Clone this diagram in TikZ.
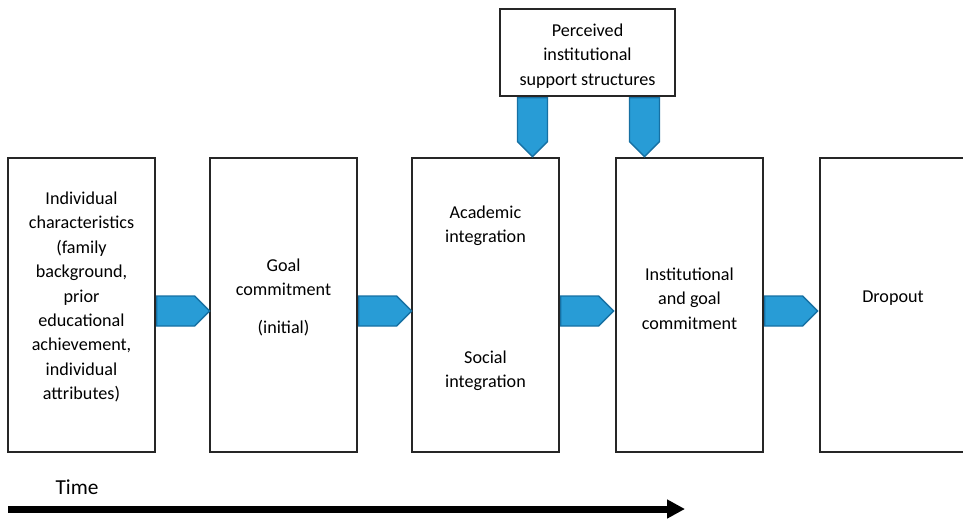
\documentclass[tikz,border=0pt]{standalone}
\usepackage{fontspec}
\setmainfont{Carlito}
\usetikzlibrary{shapes.arrows,arrows.meta}
\definecolor{flowblue}{RGB}{40,156,214}
\definecolor{flowedge}{RGB}{22,112,163}

\begin{document}
\begin{tikzpicture}[x=0.75pt,y=-0.75pt,
   box/.style={draw=black!85,line width=1.5pt,minimum width=110.25pt,minimum height=220.5pt,inner sep=0pt},
   txt/.style={align=center,font=\fontsize{13.6}{18.3}\selectfont},
   flow/.style={single arrow,draw=flowedge,fill=flowblue,line width=1pt,inner sep=0pt,
      single arrow head extend=0pt,single arrow tip angle=90,minimum width=22.5pt,minimum height=39.75pt}]
   \useasboundingbox (0,0) rectangle (963,519);

   % the five stages
   \draw (81.5,305) node[box] (individual) {};
   \draw (283.5,305) node[box] (goal) {};
   \draw (485.5,305) node[box] (integration) {};
   \draw (689.5,305) node[box] (institutional) {};
   \draw (894,305) node[box,minimum width=111pt] (dropout) {};
   \draw (587.5,52.5) node[box,minimum width=131.25pt,minimum height=65.25pt] (support) {};

   \draw (81.5,297) node[txt] (individual-t) {Individual\\characteristics\\(family\\background,\\prior\\educational\\achievement,\\individual\\attributes)};
   \draw (283.5,297.5) node[txt] (goal-t) {Goal\\commitment\\[10.5pt](initial)};
   \draw (485.5,226) node[txt] (academic-t) {Academic\\integration};
   \draw (485.5,371) node[txt] (social-t) {Social\\integration};
   \draw (689.5,298.5) node[txt] (institutional-t) {Institutional\\and goal\\commitment};
   \draw (893,298.5) node[txt] (dropout-t) {Dropout};
   \draw (587.5,56) node[txt] (support-t) {Perceived\\institutional\\support structures};

   % block arrows between the stages
   \node[flow,anchor=tail] (a1) at ([yshift=-4.5pt]individual.east) {};
   \node[flow,anchor=tail] (a2) at ([yshift=-4.5pt]goal.east) {};
   \node[flow,anchor=tail] (a3) at ([yshift=-4.5pt]integration.east) {};
   \node[flow,anchor=tail] (a4) at ([yshift=-4.5pt]institutional.east) {};
   \node[flow,shape border rotate=270,minimum height=44.25pt,anchor=tail] (s1) at ([xshift=-41.25pt]support.south) {};
   \node[flow,shape border rotate=270,minimum height=44.25pt,anchor=tail] (s2) at ([xshift=42.75pt]support.south) {};

   % time line
   \coordinate (t0) at (8,509);
   \coordinate (t1) at (685,509);
   \draw (77,487) node[font=\fontsize{16}{19}\selectfont] (time) {Time};
   \draw[line width=5.25pt,-{Triangle[length=13.5pt,width=13.5pt]}] (t0) -- (t1);

\end{tikzpicture}
\end{document}
